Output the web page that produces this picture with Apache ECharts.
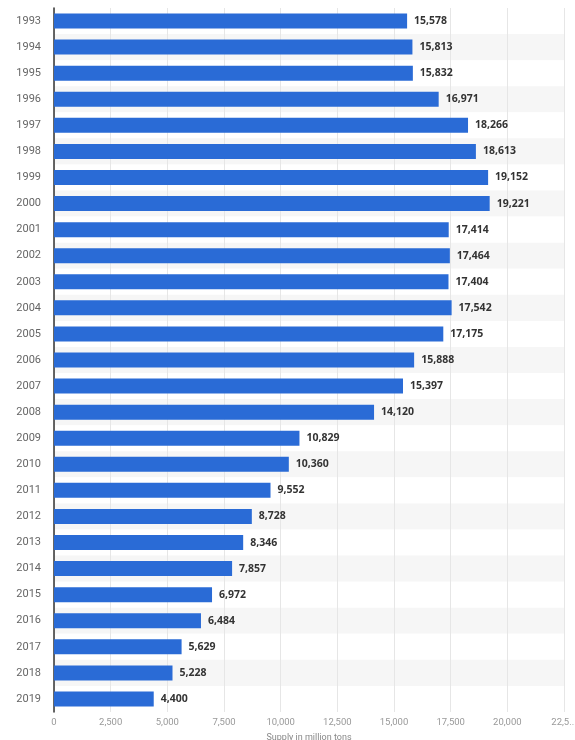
<!DOCTYPE html>
<html>
<head>
<meta charset="utf-8">
<script src="https://cdn.jsdelivr.net/npm/echarts@6/dist/echarts.min.js"></script>
<style>html,body{margin:0;padding:0;background:#fff;}#c{width:575px;height:740px;}</style>
</head>
<body>
<div id="c"></div>
<script>
const years = ['1993','1994','1995','1996','1997','1998','1999','2000','2001','2002','2003','2004','2005','2006','2007','2008','2009','2010','2011','2012','2013','2014','2015','2016','2017','2018','2019'];
const supply = [15578,15813,15832,16971,18266,18613,19152,19221,17414,17464,17404,17542,17175,15888,15397,14120,10829,10360,9552,8728,8346,7857,6972,6484,5629,5228,4400];
const axisTitle = 'Supply in million tons';

const chart = echarts.init(document.getElementById('c'));
chart.setOption({
  animation: false,
  grid: {left: 54, right: 11, top: 8, bottom: 28, containLabel: false, outerBoundsMode: 'none'},
  xAxis: {
    type: 'value', min: 0, max: 22500, interval: 2500,
    name: axisTitle, nameLocation: 'middle', nameGap: 15,
    nameTextStyle: {color: '#888', fontSize: 9, fontFamily: 'Roboto', verticalAlign: 'top'},
    axisLine: {show: false}, axisTick: {show: false},
    axisLabel: {color: '#999', fontSize: 9.5, fontFamily: 'Roboto', margin: 6,
      formatter: v => v === 22500 ? '22,5...' : v.toLocaleString('en-US')},
    splitLine: {show: true, lineStyle: {color: '#e6e6e6', width: 1}}
  },
  yAxis: {
    type: 'category', data: years, inverse: true,
    axisLine: {show: true, lineStyle: {color: '#333', width: 1.5}},
    axisTick: {show: false},
    axisLabel: {color: '#666', fontSize: 11, fontFamily: 'Roboto', margin: 13},
    splitArea: {show: true, areaStyle: {color: ['#ffffff', '#f6f6f6']}}
  },
  series: [{
    type: 'bar', data: supply, barWidth: 15,
    itemStyle: {color: '#2a6bd6'},
    label: {show: true, position: 'right', distance: 7, color: '#333', fontWeight: 'bold', fontSize: 10.5, fontFamily: 'Open Sans',
      formatter: p => p.value.toLocaleString('en-US')}
  }]
});
</script>
</body>
</html>
